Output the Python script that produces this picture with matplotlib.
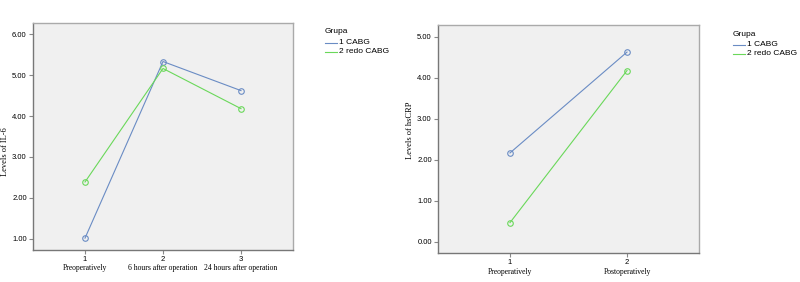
import matplotlib
matplotlib.use("Agg")
import matplotlib.pyplot as plt
import matplotlib.transforms as mtrans
from matplotlib.lines import Line2D

# Data
groups = ["1 CABG", "2 redo CABG"]
il6_times = [1, 2, 3]
il6_labels = ["Preoperatively", "6 hours after operation", "24 hours after operation"]
il6_cabg = [1.02, 5.33, 4.62]
il6_redo = [2.39, 5.16, 4.18]

crp_times = [1, 2]
crp_labels = ["Preoperatively", "Postoperatively"]
crp_cabg = [2.17, 4.63]
crp_redo = [0.47, 4.18]

il6_yticks = [1.0, 2.0, 3.0, 4.0, 5.0, 6.0]
crp_yticks = [0.0, 1.0, 2.0, 3.0, 4.0, 5.0]

blue = "#6a8cc4"
green = "#6ad85a"
W, H = 800, 282

fig = plt.figure(figsize=(8, 2.82), dpi=100)
fig.patch.set_facecolor("white")

def fx(px):
    return px / W

def fy(py):
    return 1 - py / H

serif = ["Liberation Serif", "DejaVu Serif"]
sans = ["Liberation Sans", "DejaVu Sans"]

def make_axes(box, xs, series, labels, yticks, xlim, ylim, ylabel, ylabel_pos, legend_pos, cat_y):
    x0, y0, x1, y1 = box
    ax = fig.add_axes([fx(x0), fy(y1), fx(x1 - x0), (y1 - y0) / H])
    ax.set_facecolor("#f0f0f0")
    for vals, c in series:
        ax.plot(xs, vals, color=c, lw=0.8, marker="o", ms=4, mfc="none", mec=c, mew=0.8)
    ax.set_xlim(*xlim)
    ax.set_ylim(*ylim)
    ax.set_xticks(xs)
    ax.set_xticklabels([str(x) for x in xs], fontsize=5.5, family=sans)
    ax.set_yticks(yticks)
    ax.set_yticklabels([f"{v:.2f}" for v in yticks], fontsize=5.5, family=sans)
    ax.tick_params(length=3, width=0.8, color="#888888", pad=1.5)
    for s in ["left", "bottom"]:
        ax.spines[s].set_color("#777777")
        ax.spines[s].set_linewidth(1.0)
    for s in ["top", "right"]:
        ax.spines[s].set_color("#aaaaaa")
        ax.spines[s].set_linewidth(1.0)
    tr = mtrans.blended_transform_factory(ax.transData, fig.transFigure)
    for x, lab in zip(xs, labels):
        ax.text(x, fy(cat_y), lab, transform=tr, ha="center", va="center",
                fontsize=5.5, family=serif)
    fig.text(fx(ylabel_pos[0]), fy(ylabel_pos[1]), ylabel, rotation=90, ha="center", va="center",
             fontsize=6, family=serif)
    lx, ly = legend_pos
    fig.text(fx(lx), fy(ly), "Grupa", fontsize=6, family=sans, ha="left", va="center")
    for i, (g, (_, c)) in enumerate(zip(groups, series)):
        yy = ly + 10.5 + 9 * i
        fig.add_artist(Line2D([fx(lx), fx(lx + 12)], [fy(yy), fy(yy)], color=c, lw=0.8,
                              transform=fig.transFigure))
        fig.text(fx(lx + 14), fy(yy), g, fontsize=6, family=sans, ha="left", va="center")
    return ax

make_axes((33, 23, 293, 250), il6_times, [(il6_cabg, blue), (il6_redo, green)], il6_labels,
          il6_yticks, (0.333, 3.667), (0.73, 6.27), "Levels of IL-6", (5, 152), (325, 32), 268)
make_axes((438, 25, 699, 253), crp_times, [(crp_cabg, blue), (crp_redo, green)], crp_labels,
          crp_yticks, (0.385, 2.615), (-0.27, 5.29), "Levels of hsCRP", (410, 130), (733, 34), 272)

fig.savefig("out.png", dpi=100, facecolor="white")
